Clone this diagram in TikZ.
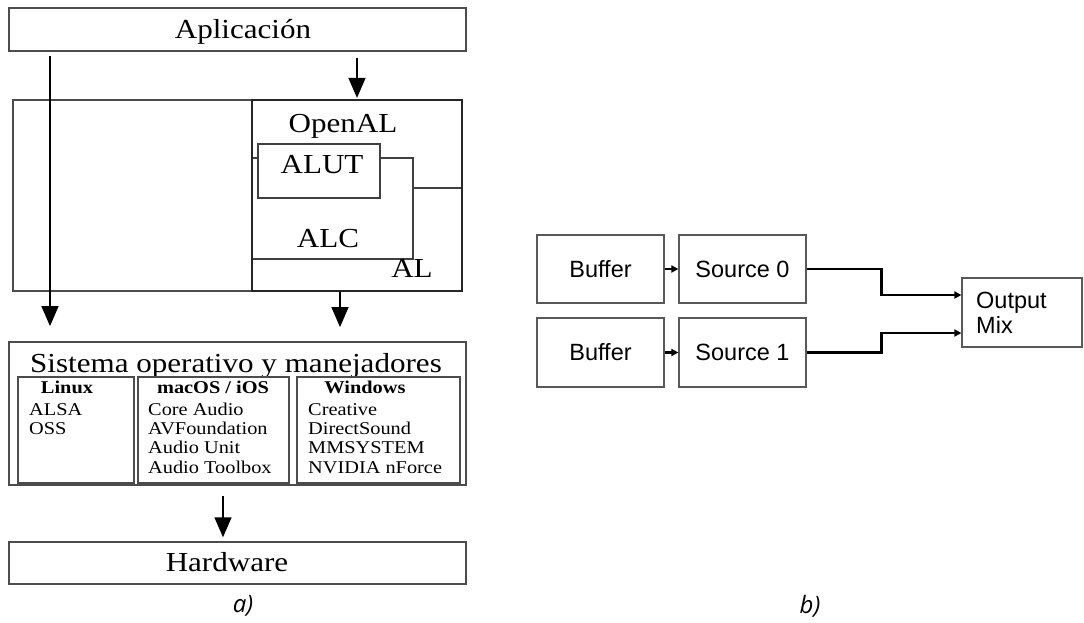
\documentclass[tikz,border=0pt]{standalone}
\usepackage{fontspec}
\newfontfamily\wideserif{Liberation Serif}[FakeStretch=1.13]
\newfontfamily\plainsans{Liberation Sans}
\newfontfamily\capsans{Open Sans}
\usetikzlibrary{arrows.meta}

\tikzset{
  layer/.style={draw=black!70, line width=1.5pt, inner sep=0pt},
  inner/.style={draw=black!70, line width=1.8pt, inner sep=0pt},
  part/.style={draw=black!75, line width=1.2pt, fill=white, inner sep=0pt},
  bigtext/.style={inner sep=0pt, font=\wideserif\fontsize{27.5}{30}\selectfont},
  smalltext/.style={inner sep=0pt, font=\wideserif\fontsize{18}{19}\selectfont},
  headtext/.style={inner sep=0pt, font=\wideserif\bfseries\fontsize{18}{19}\selectfont},
  flow/.style={draw=black, line width=1.5pt, -{Triangle[width=17pt,length=20pt]}},
  block/.style={draw=black!65, line width=1.2pt, inner sep=0pt,
    font=\plainsans\fontsize{23.5}{25}\selectfont},
  link/.style={draw=black, line width=2.4pt, -{Triangle[width=7pt,length=7pt]}},
  caption/.style={inner sep=0pt, font=\capsans\itshape\fontsize{24}{26}\selectfont}
}

\begin{document}
\begin{tikzpicture}[x=1pt, y=-1pt]
\useasboundingbox (0,0) rectangle (1084,622);

% ---------- a) layered architecture ----------
\node[layer, minimum width=457pt, minimum height=43pt] (app) at (237.5,29.5) {};
\node[bigtext, anchor=base] (apptext) at (243,38) {Aplicación};

\node[draw=black!70, line width=1.2pt, minimum width=449pt, minimum height=191pt, inner sep=0pt] (outer) at (237.5,195.5) {};
\node[part, minimum width=210pt, minimum height=103pt] (al) at (357,239.5) {};
\node[part, minimum width=161pt, minimum height=101pt] (alc) at (332.5,208.5) {};
\node[part, minimum width=122pt, minimum height=54pt] (alut) at (319,171) {};
\node[draw=black!85, line width=2.2pt, minimum width=210pt, minimum height=191pt, inner sep=0pt] (openal) at (357,195.5) {};

\node[bigtext, anchor=base] (openaltext) at (343,132) {OpenAL};
\node[bigtext, anchor=base] (aluttext) at (322,173) {ALUT};
\node[bigtext, anchor=base] (alctext) at (328,247) {ALC};
\node[bigtext, anchor=base] (altext) at (412,277) {AL};

\node[inner, minimum width=457pt, minimum height=143pt] (sis) at (237.5,413.5) {};
\node[bigtext, anchor=base] (sistitle) at (236,372) {Sistema operativo y manejadores};
\node[inner, minimum width=116pt, minimum height=106pt] (linux) at (76,430) {};
\node[inner, minimum width=151pt, minimum height=106pt] (macos) at (213.5,430) {};
\node[inner, minimum width=163pt, minimum height=106pt] (windows) at (378.5,430) {};

\node[headtext, anchor=base] (linuxhead) at (67,393) {Linux};
\node[headtext, anchor=base] (macoshead) at (213,393) {macOS / iOS};
\node[headtext, anchor=base] (windowshead) at (365,393) {Windows};

\foreach \t [count=\i] in {ALSA, OSS}
  \node[smalltext, anchor=base west] (linux\i) at (29,{396+19.3*\i}) {\t};
\foreach \t [count=\i] in {Core Audio, AVFoundation, Audio Unit, Audio Toolbox}
  \node[smalltext, anchor=base west] (mac\i) at (148,{396+19.3*\i}) {\t};
\foreach \t [count=\i] in {Creative, DirectSound, MMSYSTEM, NVIDIA nForce}
  \node[smalltext, anchor=base west] (win\i) at (308,{396+19.3*\i}) {\t};

\node[layer, minimum width=457pt, minimum height=42pt] (hw) at (237.5,563) {};
\node[bigtext, anchor=base] (hwtext) at (227,571) {Hardware};

\coordinate (leftrail) at (50,0);
\coordinate (alrail) at (357,0);
\coordinate (downrail) at (340,0);
\coordinate (hwrail) at (223,0);

\draw[flow, shorten <=4pt, shorten >=15pt] (app.south -| leftrail) -- (sis.north -| leftrail);
\draw[flow, shorten <=6pt, shorten >=1pt] (app.south -| alrail) -- (openal.north -| alrail);
\draw[flow, shorten >=14pt] (openal.south -| downrail) -- (sis.north -| downrail);
\draw[flow, shorten <=10pt, shorten >=4pt] (sis.south -| hwrail) -- (hw.north -| hwrail);

\node[caption] (capa) at (243,606) {a)};

% ---------- b) buffers, sources and mix ----------
\node[block, minimum width=127pt, minimum height=68pt] (buf0) at (600.5,269) {Buffer};
\node[block, minimum width=127pt, minimum height=68pt] (src0) at (742.5,269) {Source 0};
\node[block, minimum width=127pt, minimum height=69pt] (buf1) at (600.5,352.5) {Buffer};
\node[block, minimum width=127pt, minimum height=69pt] (src1) at (742.5,352.5) {Source 1};
\node[block, minimum width=120pt, minimum height=69pt] (out) at (1022,312.5) {};
\node[inner sep=0pt, anchor=west, align=left,
      font=\plainsans\fontsize{23.5}{25}\selectfont] (outtext) at (976,313) {Output\\Mix};

\draw[link] (buf0) -- (src0);
\draw[link] (buf1) -- (src1);
\draw[link] (src0.east) -- ++(75,0) |- ([yshift=17.5pt]out.west);
\draw[link] (src1.east) -- ++(75,0) |- ([yshift=-20.5pt]out.west);

\node[caption] (capb) at (810,606) {b)};
\end{tikzpicture}
\end{document}
